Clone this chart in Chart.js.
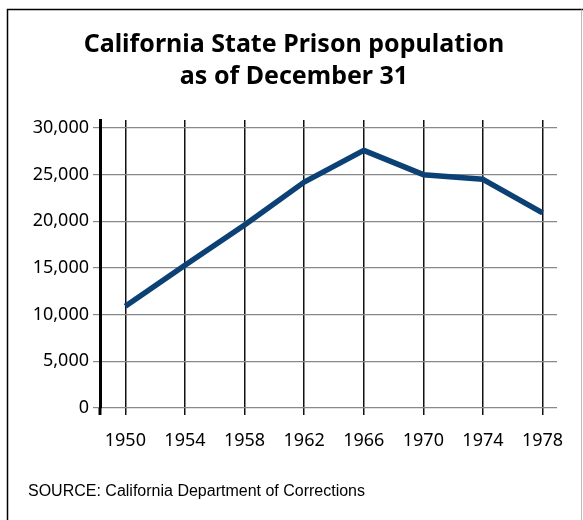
<!doctype html>
<html lang="en">
<head>
    <meta charset="utf-8">
    <script src="https://cdn.jsdelivr.net/npm/chart.js"></script>
    <style>
        html, body { margin: 0; padding: 0; background: #fff; }
        #wrap { width: 583px; height: 520px; position: relative; }
    </style>
</head>
<body>
    <div id="wrap">
        <canvas id="myChart" width="583" height="520"></canvas>
    </div>
    <script>
        // data
        const years = [1950, 1954, 1958, 1962, 1966, 1970, 1974, 1978];
        const population = [10900, 15300, 19600, 24200, 27600, 25000, 24500, 20900];
        const yTicks = [0, 5000, 10000, 15000, 20000, 25000, 30000];
        const titleLines = ['California State Prison population', 'as of December 31'];
        const sourceText = 'SOURCE: California Department of Corrections';

        // frame, source line and the little stub of the y axis under zero
        const extras = {
            id: 'extras',
            beforeDraw(chart) {
                const ctx = chart.ctx;
                ctx.save();
                ctx.fillStyle = '#fff';
                ctx.fillRect(0, 0, chart.width, chart.height);
                ctx.strokeStyle = '#000';
                ctx.lineWidth = 1.5;
                ctx.beginPath();
                ctx.moveTo(7.5, chart.height + 5);
                ctx.lineTo(7.5, 9.5);
                ctx.lineTo(chart.width, 9.5);
                ctx.stroke();
                ctx.strokeStyle = '#bbb';
                ctx.lineWidth = 1;
                ctx.beginPath();
                ctx.moveTo(581.5, 9.5);
                ctx.lineTo(581.5, chart.height);
                ctx.stroke();
                ctx.restore();
            },
            afterDraw(chart) {
                const ctx = chart.ctx;
                const area = chart.chartArea;
                ctx.save();
                ctx.strokeStyle = '#000';
                ctx.lineWidth = 3;
                ctx.beginPath();
                ctx.moveTo(area.left, area.bottom);
                ctx.lineTo(area.left, area.bottom + 7);
                ctx.stroke();
                ctx.fillStyle = '#000';
                ctx.font = '16px "Liberation Sans", Arial, sans-serif';
                ctx.textBaseline = 'middle';
                ctx.fillText(sourceText, 28, 492);
                ctx.restore();
            }
        };

        const tickFont = { family: '"Noto Sans", "Open Sans", sans-serif', size: 18 };

        const config = {
            type: 'line',
            data: {
                labels: years,
                datasets: [{
                    data: years.map((y, i) => ({ x: y, y: population[i] })),
                    borderColor: '#0b4175',
                    borderWidth: 5.5,
                    pointRadius: 0,
                    tension: 0,
                    borderJoinStyle: 'round'
                }]
            },
            options: {
                responsive: false,
                animation: false,
                layout: { padding: { left: 31, right: 26, top: 0, bottom: 72 } },
                plugins: {
                    legend: { display: false },
                    tooltip: { enabled: false },
                    title: {
                        display: true,
                        text: titleLines,
                        color: '#000',
                        font: { family: '"Noto Sans", "Open Sans", sans-serif', size: 25, weight: 'bold', lineHeight: 1.28 },
                        padding: { top: 29, bottom: 27 }
                    }
                },
                scales: {
                    x: {
                        type: 'linear',
                        min: 1948.3,
                        max: 1978.97,
                        afterBuildTicks(scale) {
                            scale.ticks = years.map(v => ({ value: v }));
                        },
                        afterFit(scale) { scale.height = 40; },
                        grid: { color: '#111', lineWidth: 1.5, tickLength: 7, drawOnChartArea: true },
                        border: { display: false },
                        ticks: {
                            color: '#000',
                            padding: 15,
                            maxRotation: 0,
                            font: tickFont,
                            callback: v => String(v)
                        }
                    },
                    y: {
                        min: 0,
                        max: 30857,
                        afterBuildTicks(scale) {
                            scale.ticks = yTicks.map(v => ({ value: v }));
                        },
                        afterFit(scale) { scale.width = 69; },
                        grid: { color: '#888', lineWidth: 1.2, tickLength: 7 },
                        border: { color: '#000', width: 3 },
                        ticks: {
                            color: '#000',
                            padding: 4,
                            font: tickFont,
                            callback: v => v.toLocaleString('en-US')
                        }
                    }
                }
            },
            plugins: [extras]
        };

        const myChart = new Chart(document.getElementById('myChart'), config);
    </script>
</body>
</html>
